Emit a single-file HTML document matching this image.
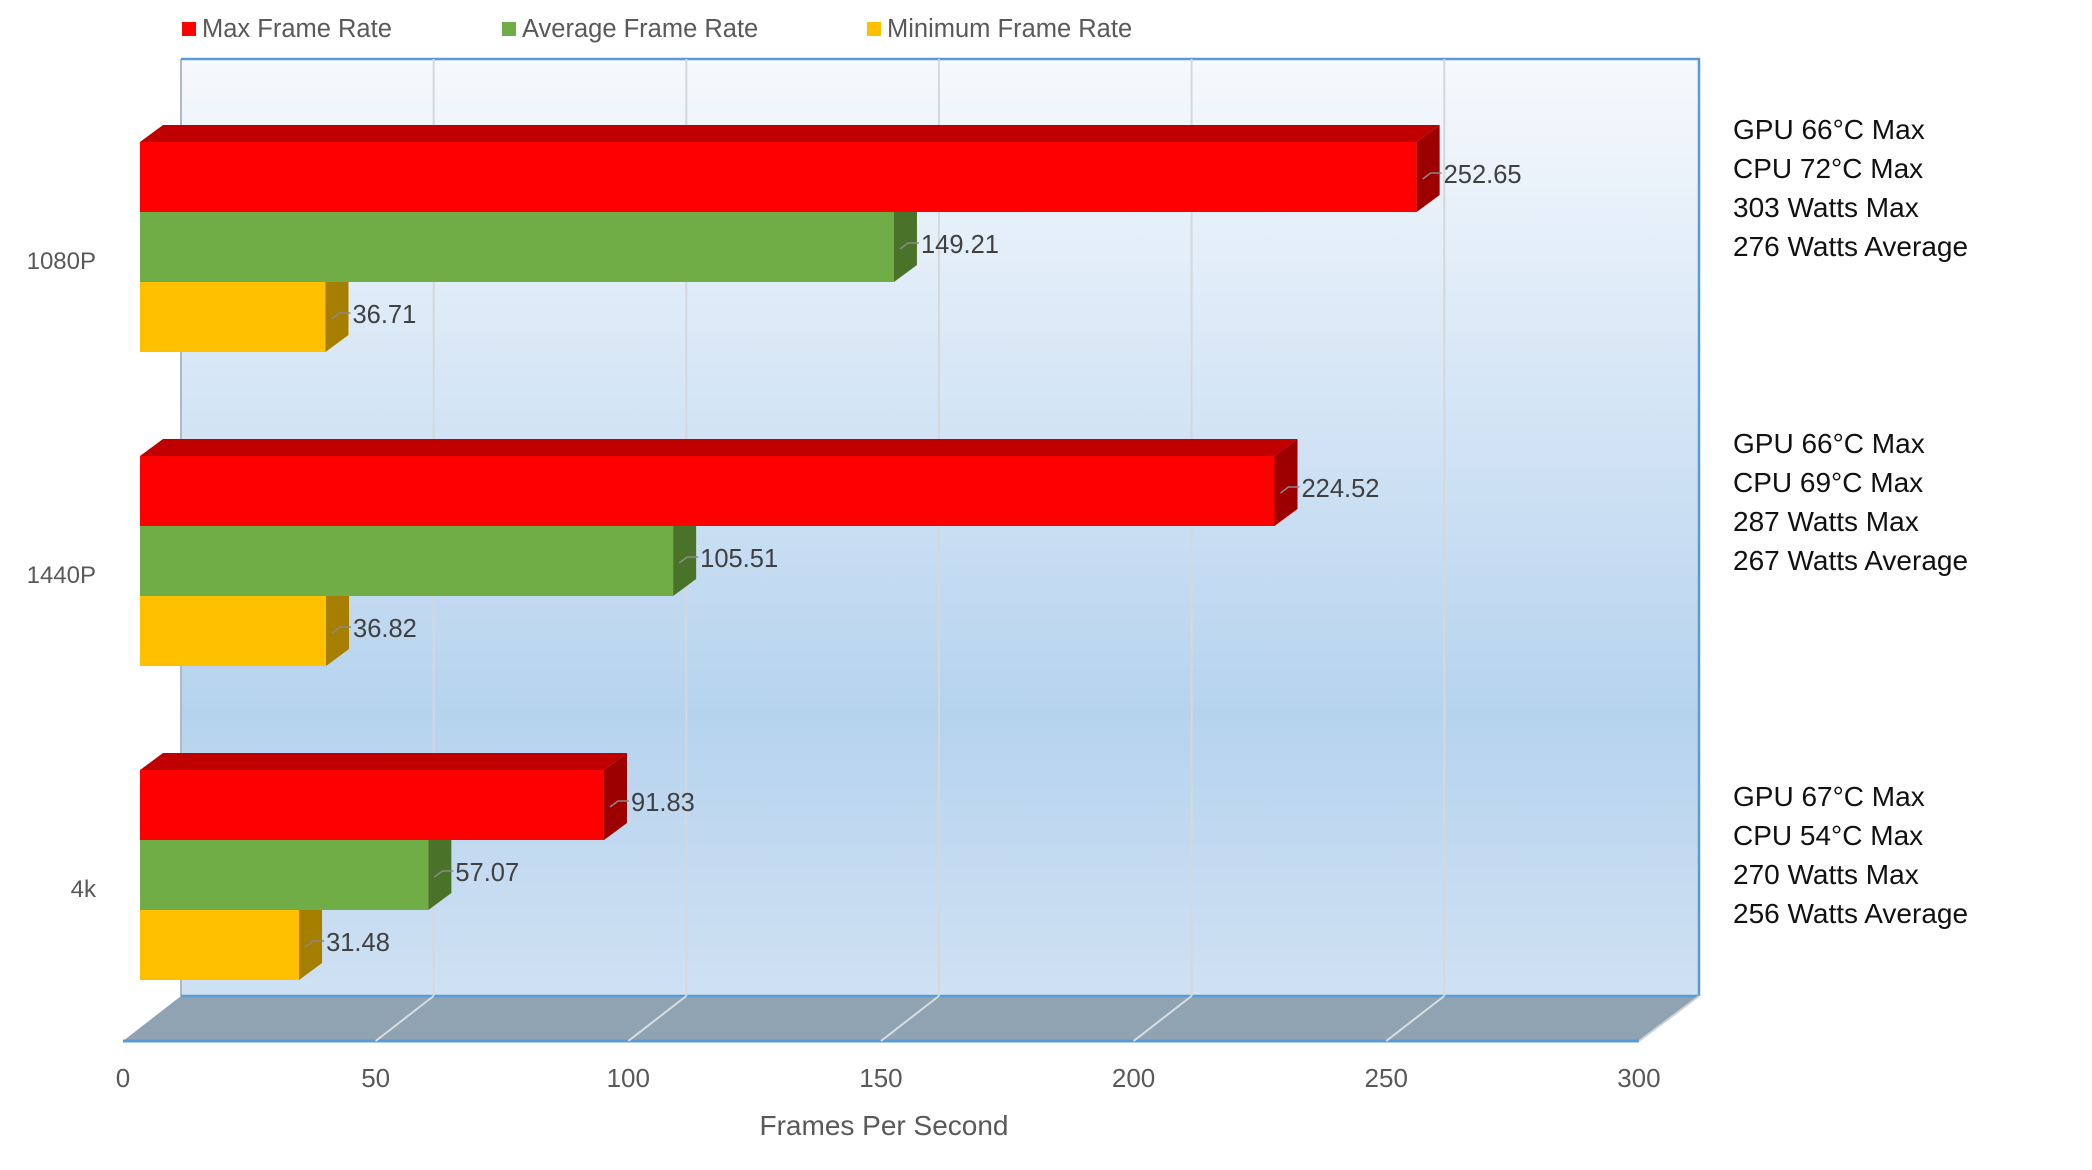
<!DOCTYPE html>
<html><head><meta charset="utf-8"><style>
html,body{margin:0;padding:0;background:#fff;}
svg{display:block;font-family:"Liberation Sans",sans-serif;}
</style></head><body>
<svg id="chart" width="2092" height="1170" viewBox="0 0 2092 1170" xmlns="http://www.w3.org/2000/svg">
<defs>
<linearGradient id="wallg" x1="0" y1="0" x2="0" y2="1">
<stop offset="0" stop-color="#f6f9fd"/>
<stop offset="0.7" stop-color="#b6d3ee"/>
<stop offset="1" stop-color="#cfe1f3"/>
</linearGradient>
</defs>
<g id="legend"></g>
<rect x="181" y="59" width="1518" height="937" fill="url(#wallg)"/>
<line x1="181" y1="59" x2="181" y2="996" stroke="#b0b8c0" stroke-width="2"/>
<polyline points="181,59 1699,59 1699,996" fill="none" stroke="#5b9bd5" stroke-width="2.5"/>
<polygon points="181,996 1699,996 1639,1041 123,1041" fill="#8fa3b3"/>
<line x1="181" y1="996" x2="1699" y2="996" stroke="#5b9bd5" stroke-width="2.5"/>
<line x1="123" y1="1041" x2="1639" y2="1041" stroke="#5b9bd5" stroke-width="3"/>
<line x1="1699" y1="996" x2="1639" y2="1041" stroke="#c8d0d8" stroke-width="2"/>
<g id="grid"></g>
<g id="bars"></g>
<g id="labels"></g>
<g id="ticks"></g>
<g id="cats"></g>
<g id="notes"></g>
<text x="884" y="1135" font-size="28" fill="#595959" text-anchor="middle">Frames Per Second</text>
</svg>
<script>
const categories = ["1080P", "1440P", "4k"];
const seriesNames = ["Max Frame Rate", "Average Frame Rate", "Minimum Frame Rate"];
const maxFps = [252.65, 224.52, 91.83];
const avgFps = [149.21, 105.51, 57.07];
const minFps = [36.71, 36.82, 31.48];
const tickValues = [0, 50, 100, 150, 200, 250, 300];
const notes = [
 ["GPU 66°C Max", "CPU 72°C Max", "303 Watts Max", "276 Watts Average"],
 ["GPU 66°C Max", "CPU 69°C Max", "287 Watts Max", "267 Watts Average"],
 ["GPU 67°C Max", "CPU 54°C Max", "270 Watts Max", "256 Watts Average"]
];

const NS = "http://www.w3.org/2000/svg";
function mk(tag, attrs, parent) {
  const e = document.createElementNS(NS, tag);
  for (const k in attrs) e.setAttribute(k, attrs[k]);
  parent.appendChild(e);
  return e;
}
const S = 5.053;
function xFront(v) { return 123 + v * S; }
function xBack(v) { return 181 + v * S; }
function xBar(v) { return 140 + v * S; }
function groupTop(i) { return 142 + i * 314; }
const BH = 70, DX = 23, DY = 17;

const grid = document.getElementById('grid');
tickValues.forEach((t) => {
  if (t > 0 && t < 300) {
    const l = mk('line', {x1: xBack(t), y1: 59, x2: xBack(t), y2: 996, stroke: '#d4d8dc', 'stroke-width': 2}, grid);
    
    
    const f = mk('line', {x1: xBack(t), y1: 996, x2: xFront(t), y2: 1041, stroke: '#d8dde2', 'stroke-width': 2}, grid);
    
    
  }
});

const ticks = document.getElementById('ticks');
tickValues.forEach(t => {
  const e = mk('text', {x: xFront(t), y: 1087, 'font-size': 26, fill: '#595959', 'text-anchor': 'middle'}, ticks);
  e.textContent = t;
  
  
});

const colors = [
  {front: '#ff0000', top: '#c00000', side: '#9c0000'},
  {front: '#70ad47', top: '#5a8c38', side: '#4a7229'},
  {front: '#ffc000', top: '#d9a300', side: '#a67f00'}
];
const series = [maxFps, avgFps, minFps];
const bars = document.getElementById('bars');
const labels = document.getElementById('labels');
const cats = document.getElementById('cats');
const notesG = document.getElementById('notes');

categories.forEach((c, i) => {
  const top = groupTop(i);
  for (let s = 2; s >= 0; s--) {
    const v = series[s][i];
    const y = top + s * BH;
    const x0 = xBar(0), x1 = xBar(v);
    const g = mk('g', {}, bars);
    
    
    mk('rect', {x: x0, y: y, width: x1 - x0, height: BH, fill: colors[s].front}, g);
    mk('polygon', {points: `${x1},${y} ${x1+DX},${y-DY} ${x1+DX},${y+BH-DY} ${x1},${y+BH}`, fill: colors[s].side}, g);
    if (s === 0) mk('polygon', {points: `${x0},${y} ${x0+DX},${y-DY} ${x1+DX},${y-DY} ${x1},${y}`, fill: colors[s].top}, g);
    const lx = x1 + DX, ly = y + BH / 2 - 2;
    const ll = mk('polyline', {points: `${x1+6},${ly+4} ${x1+14},${ly-2} ${lx+2},${ly-2}`, fill: 'none', stroke: '#8a8a8a', 'stroke-width': 1.5}, labels);
    
    
    const t = mk('text', {x: lx + 4, y: ly + 8, 'font-size': 25.5, fill: '#404040'}, labels);
    t.textContent = v.toFixed(2);
    
    
  }
  const ct = mk('text', {x: 96, y: top + 127, 'font-size': 24, fill: '#595959', 'text-anchor': 'end'}, cats);
  ct.textContent = c;
  
  
});

const noteTops = [139, 453, 806];
notes.forEach((lines, i) => {
  lines.forEach((ln, j) => {
    const t = mk('text', {x: 1733, y: noteTops[i] + j * 39, 'font-size': 28, fill: '#111'}, notesG);
    t.textContent = ln;
    
    
  });
});

const legend = document.getElementById('legend');
const legX = [182, 502, 867];
seriesNames.forEach((n, i) => {
  const g = mk('g', {}, legend);
  
  
  mk('rect', {x: legX[i], y: 22, width: 14, height: 14, fill: colors[i].front}, g);
  const t = mk('text', {x: legX[i] + 20, y: 37, 'font-size': 25.5, fill: '#595959'}, g);
  t.textContent = n;
});
</script>
</body></html>
